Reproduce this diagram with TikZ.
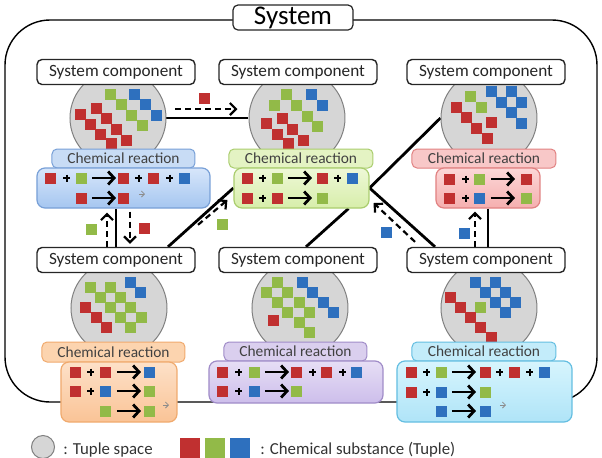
\documentclass[tikz,border=0pt]{standalone}
\usepackage{fontspec}
\setmainfont{Carlito}
\usetikzlibrary{arrows.meta,calc,backgrounds}
\definecolor{tred}{RGB}{192,48,48}
\definecolor{tgreen}{RGB}{146,186,72}
\definecolor{tblue}{RGB}{46,112,190}
\definecolor{bluebd}{RGB}{120,160,215}\definecolor{bluelab}{RGB}{200,220,245}
\definecolor{bluetop}{RGB}{215,230,250}\definecolor{bluebot}{RGB}{165,198,240}
\definecolor{grnbd}{RGB}{170,205,110}\definecolor{grnlab}{RGB}{228,243,195}
\definecolor{grntop}{RGB}{238,248,215}\definecolor{grnbot}{RGB}{215,238,170}
\definecolor{redbd}{RGB}{225,130,130}\definecolor{redlab}{RGB}{248,200,200}
\definecolor{redtop}{RGB}{252,215,215}\definecolor{redbot}{RGB}{245,175,175}
\definecolor{orgbd}{RGB}{240,170,110}\definecolor{orglab}{RGB}{252,212,175}
\definecolor{orgtop}{RGB}{253,225,200}\definecolor{orgbot}{RGB}{250,195,150}
\definecolor{purbd}{RGB}{160,140,200}\definecolor{purlab}{RGB}{218,207,238}
\definecolor{purtop}{RGB}{230,222,245}\definecolor{purbot}{RGB}{205,190,235}
\definecolor{cyabd}{RGB}{100,190,225}\definecolor{cyalab}{RGB}{195,236,250}
\definecolor{cyatop}{RGB}{215,245,253}\definecolor{cyabot}{RGB}{175,228,248}
\newcommand\tsq[2]{\foreach \x/\y in {#2} {\fill[#1] (\x-5.5,\y-5.5) rectangle ++(11,11);}}
\newcommand\tplus[1]{\foreach \x/\y in {#1} {\draw[plussign] (\x-3.5,\y) -- (\x+3.5,\y) (\x,\y-3.5) -- (\x,\y+3.5);}}
\newcommand\tarr[1]{\foreach \x/\y in {#1} {\draw[rarr] (\x,\y) -- (\x+24,\y);}}
\newcommand\tsmall[1]{\foreach \x/\y in {#1} {\draw[sarr] (\x-3,\y) -- (\x+3,\y);}}
\begin{document}
\begin{tikzpicture}[x=0.5pt,y=-0.5pt,
  comp/.style={draw=black!85, fill=white, line width=0.7pt, rounded corners=2.5pt, minimum width=79pt, minimum height=12.5pt, inner sep=0pt, font=\fontsize{8.6}{10}\selectfont, text=black!85},
  tspace/.style={circle, draw=black!50, fill=black!16, line width=0.5pt, minimum size=48pt, inner sep=0pt},
  chemlab/.style={rounded corners=2.5pt, line width=0.5pt, minimum height=9.5pt, inner sep=0pt, font=\fontsize{7.7}{9}\selectfont, text=black!75},
  rbox/.style={rounded corners=4pt, line width=0.6pt, inner sep=0pt},
  conn/.style={line width=1.4pt, black},
  dasharr/.style={line width=1.1pt, dash pattern=on 3pt off 2pt, -{Straight Barb[length=3pt,width=6pt]}},
  rarr/.style={line width=1.4pt, -{Straight Barb[length=3pt,width=6.5pt]}},
  sarr/.style={line width=0.4pt, black!45, -{Straight Barb[length=1.5pt,width=3pt]}},
  plussign/.style={line width=1.1pt, black}
]
\useasboundingbox (0,0) rectangle (602,457);

% tuple spaces
\node[tspace] (cTL) at (118,118) {};
\node[tspace] (cTM) at (297,118) {};
\node[tspace] (cTR) at (489,118) {};
\node[tspace] (cBL) at (119,308) {};
\node[tspace] (cBM) at (300,308) {};
\node[tspace] (cBR) at (489,308) {};

% tuples inside spaces
\tsq{tgreen}{111/94,121.5/104.5,132/115,142.5/125.5}
\tsq{tblue}{135/94,146/104.5,157/115}
\tsq{tred}{81/114,91/124,101/134,112/143,97/108,107/118,117/129,127/140}
\tsq{tgreen}{287/94,275/105,297/105,308/116,318/126}
\tsq{tblue}{312/94,323/105}
\tsq{tred}{267/123,278/134,289/143,283/118,293/129,304/140}
\tsq{tgreen}{471/96,482/107}
\tsq{tblue}{492/91,512/91,502/102,522/102,512/112,522/123}
\tsq{tred}{457/107,467/117,477/128,488/138,492/122}
\tsq{tgreen}{91/287,111/287,101/297,121/297,111/307,131/307,121/317,142/317,131/327}
\tsq{tblue}{131/282,141/292}
\tsq{tred}{86/307,97/317,107/327}
\tsq{tgreen}{278/282,267/292,288/292,278/302,300/302,288/312,310/312,300/322,310/332}
\tsq{tblue}{303/282,313/292,324/302,334/312}
\tsq{tred}{274/320}
\tsq{tblue}{476/282,496/282,486/292,506/292,496/302,516/302,506/312}
\tsq{tgreen}{481/307}
\tsq{tred}{451/297,461/307,471/317,481/327,492/337}

% system components
\node[comp] (bTL) at (116,72) {System component};
\node[comp] (bTM) at (298,72) {System component};
\node[comp] (bTR) at (486,72) {System component};
\node[comp] (bBL) at (116,260) {System component};
\node[comp] (bBM) at (298,260) {System component};
\node[comp] (bBR) at (486,260) {System component};

% chemical reaction labels and boxes
\node[chemlab, draw=bluebd, fill=bluelab, minimum width=71.5pt] (lTL) at (123.5,158.5) {Chemical reaction};
\node[rbox, draw=bluebd, top color=bluetop, bottom color=bluebot, minimum width=86.5pt, minimum height=20pt] (rTL) at (123.5,188) {};
\node[chemlab, draw=grnbd, fill=grnlab, minimum width=72pt] (lTM) at (301,158.5) {Chemical reaction};
\node[rbox, draw=grnbd, top color=grntop, bottom color=grnbot, minimum width=67.5pt, minimum height=20pt] (rTM) at (301.5,188) {};
\node[chemlab, draw=redbd, fill=redlab, minimum width=72pt] (lTR) at (484,158.5) {Chemical reaction};
\node[rbox, draw=redbd, top color=redtop, bottom color=redbot, minimum width=52pt, minimum height=20pt] (rTR) at (488,188) {};
\node[chemlab, draw=orgbd, fill=orglab, minimum width=71.5pt, minimum height=10pt] (lBL) at (113.5,352) {Chemical reaction};
\node[rbox, draw=orgbd, top color=orgtop, bottom color=orgbot, minimum width=58pt, minimum height=30pt] (rBL) at (119,392) {};
\node[chemlab, draw=purbd, fill=purlab, minimum width=71.5pt] (lBM) at (295.5,351.5) {Chemical reaction};
\node[rbox, draw=purbd, top color=purtop, bottom color=purbot, minimum width=87pt, minimum height=21pt] (rBM) at (296,382) {};
\node[chemlab, draw=cyabd, fill=cyalab, minimum width=72pt] (lBR) at (484,351.5) {Chemical reaction};
\node[rbox, draw=cyabd, top color=cyatop, bottom color=cyabot, minimum width=87.5pt, minimum height=30.5pt] (rBR) at (484.5,391.5) {};

% reaction contents
\tsq{tred}{51/178,124/178,154/178,82/198,124/198,248/178,323/178,248/198,278/198,450/179,527/179,450/198,76/372,106/372,76/391,223/372,297/372,327/372,223/391,412/372,486/372,515/372,412/392}
\tsq{tgreen}{82/178,278/178,323/198,480/179,527/198,150/391,106/411,150/411,255/372,297/391,442/372,486/392}
\tsq{tblue}{185/178,353/178,480/198,150/372,106/391,357/372,255/391,545/372,442/392,442/411,486/411}
\tplus{67/178,139/178,170/178,263/178,338/178,263/198,466/179,466/198,91/372,91/391,239/372,313/372,343/372,239/391,427/372,500/372,530/372,427/392}
\tarr{92/178,92/198,288/178,288/198,491/179,491/198,117/372,117/391,117/411,265/372,265/391,452/372,452/392,452/411}
\tsmall{142/194,166/405,503/405}

% moving tuples
\tsq{tred}{205/98,145/228}
\tsq{tgreen}{92/229,223/224}
\tsq{tblue}{387/232,465/233}

% title
\node[draw=black!85, fill=white, rounded corners=2.5pt, line width=0.6pt, minimum width=60pt, minimum height=12.5pt, inner sep=0pt, font=\fontsize{13.5}{15}\selectfont] (title) at (293,17.5) {System};

% legend
\node[tspace, minimum size=11.5pt] (lgc) at (43,447) {};
\fill[tred] (180,438) rectangle (200,458);
\fill[tgreen] (205,438) rectangle (225,458);
\fill[tblue] (230,438) rectangle (250,458);
\node[anchor=base west, inner sep=0pt, font=\fontsize{8.4}{10}\selectfont, text=black!80] (lgt) at (63,454) {: Tuple space};
\node[anchor=base west, inner sep=0pt, font=\fontsize{8.4}{10}\selectfont, text=black!80] (lgs) at (260,454) {: Chemical substance (Tuple)};

\begin{pgfonlayer}{background}
\draw[line width=0.7pt, rounded corners=22.5pt] (5,20) rectangle (597,402);
\draw[conn] (cTL) -- (cTM);
\draw[dasharr] ($(cTL.east)+(9,-9)$) -- ($(cTM.west)+(-11,-9)$);
\draw[conn] (rTL.south -| bBL.north) -- (bBL.north);
\draw[dasharr] ($(bBL.north)+(-9,0)$) -- ($(bBL.north |- rTL.south)+(-9,4)$);
\draw[dasharr] ($(bBL.north |- rTL.south)+(14,3)$) -- ($(bBL.north)+(14,-3)$);
\draw[conn] ($(bBL.north)+(52,0)$) -- (rTM.west);
\draw[dasharr] ($(bBL.north)+(82,-22)$) -- ($(rTM.west)+(-6,12)$);
\draw[conn] ($(bBM.north)+(8,0)$) -- ($(rTM.south)+(47,0)$);
\draw[conn] (cTR.west) -- (rTM.east);
\draw[conn] (rTM.east) -- ($(bBR.north)+(-51,0)$);
\draw[dasharr] ($(bBR.north)+(-71,-5)$) -- ($(rTM.east)+(4,15)$);
\draw[conn] (rTR.south) -- (rTR.south |- bBR.north);
\draw[dasharr] ($(bBR.north)+(-11,0)$) -- ($(rTR.south)+(-13,3)$);
\end{pgfonlayer}
\end{tikzpicture}
\end{document}
